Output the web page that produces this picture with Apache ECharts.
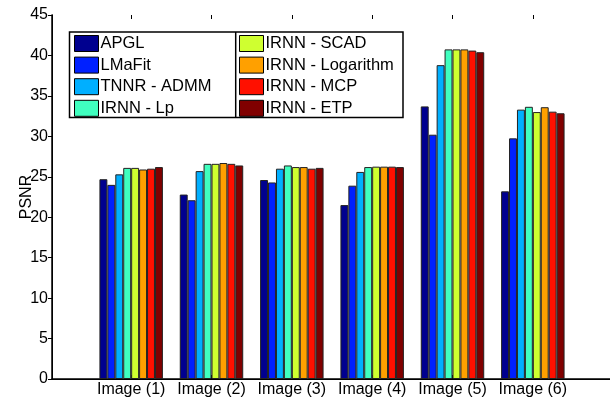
<!DOCTYPE html>
<html><head><meta charset="utf-8">
<script src="https://cdn.jsdelivr.net/npm/echarts@6/dist/echarts.min.js"></script>
<style>html,body{margin:0;padding:0;background:#fff}#c{width:610px;height:398px}</style>
</head><body><div id="c"></div>
<script>
const categories = ['Image (1)','Image (2)','Image (3)','Image (4)','Image (5)','Image (6)'];
const seriesNames = ['APGL','LMaFit','TNNR - ADMM','IRNN - Lp','IRNN - SCAD','IRNN - Logarithm','IRNN - MCP','IRNN - ETP'];
const APGL   = [24.7, 22.8, 24.6, 21.5, 33.7, 23.2];
const LMaFit = [24.0, 22.1, 24.3, 23.9, 30.2, 29.75];
const TNNR   = [25.3, 25.7, 26.0, 25.6, 38.8, 33.3];
const IRNN_Lp   = [26.1, 26.6, 26.4, 26.2, 40.75, 33.65];
const IRNN_SCAD = [26.1, 26.6, 26.2, 26.25, 40.75, 33.0];
const IRNN_Log  = [25.9, 26.7, 26.2, 26.25, 40.75, 33.6];
const IRNN_MCP  = [26.0, 26.6, 26.0, 26.25, 40.6, 33.05];
const IRNN_ETP  = [26.2, 26.4, 26.1, 26.2, 40.4, 32.85];
const yTicks = [0,5,10,15,20,25,30,35,40,45];

const values = [APGL, LMaFit, TNNR, IRNN_Lp, IRNN_SCAD, IRNN_Log, IRNN_MCP, IRNN_ETP];
const colors = ['#00008f','#0020ff','#00afff','#40ffbf','#cfff30','#ffa000','#ff1000','#800000'];
const FONT = "'Liberation Sans', Arial, sans-serif";

const chart = echarts.init(document.getElementById('c'), null, {renderer:'canvas'});
const series = values.map((v,i)=>({
  name: seriesNames[i], type:'bar', xAxisIndex:2, yAxisIndex:2, data:v,
  barGap:'0%', barCategoryGap:'21%',
  itemStyle:{color:colors[i], borderColor:'#222', borderWidth:1},
  emphasis:{disabled:true}, animation:false
}));
const legendCommon = {
  orient:'vertical', itemWidth:24, itemHeight:16, itemGap:4.6, padding:0, z:10,
  icon:'rect', selectedMode:false,
  textStyle:{fontFamily:FONT, fontSize:16.5, color:'#000', padding:[0,0,0,-3]},
  itemStyle:{borderColor:'#000', borderWidth:1}
};
chart.setOption({
  animation:false,
  textStyle:{fontFamily:FONT},
  grid:[
    {left:52, right:0, top:15, bottom:19, containLabel:false},
    {left:52, right:0, top:15, bottom:19, containLabel:false},
    {left:91, right:37, top:15, bottom:19, containLabel:false}
  ],
  xAxis:[
    {gridIndex:0, type:'value', min:0, max:1, position:'bottom', axisLine:{show:true,lineStyle:{color:'#000',width:1.5}}, axisTick:{show:false}, axisLabel:{show:false}, splitLine:{show:false}},
    {gridIndex:1, type:'value', min:0, max:1, position:'top', axisLine:{show:true,lineStyle:{color:'#000',width:1}}, axisTick:{show:false}, axisLabel:{show:false}, splitLine:{show:false}},
    {gridIndex:2, type:'category', data:categories, position:'bottom',
      axisLine:{show:false}, axisTick:{show:true, inside:true, alignWithLabel:true, length:4, lineStyle:{color:'#000'}},
      axisLabel:{color:'#000', fontSize:16, fontFamily:FONT, margin:3, interval:0}},
    {gridIndex:2, type:'category', data:categories, position:'top',
      axisLine:{show:false}, axisTick:{show:true, inside:true, alignWithLabel:true, length:4, lineStyle:{color:'#000'}},
      axisLabel:{show:false}}
  ],
  yAxis:[
    {gridIndex:0, type:'value', min:0, max:45, interval:5, position:'left',
      name:'PSNR', nameLocation:'middle', nameGap:17, nameMoveOverlap:false,
      nameTextStyle:{color:'#000', fontSize:16, fontFamily:FONT},
      axisLine:{show:true,lineStyle:{color:'#000',width:1.5}}, axisTick:{show:true, inside:false, length:4, lineStyle:{color:'#000'}},
      axisLabel:{color:'#000', fontSize:16, fontFamily:FONT, margin:4}, splitLine:{show:false}},
    {gridIndex:1, type:'value', min:0, max:45, interval:5, position:'right',
      axisLine:{show:true,lineStyle:{color:'#000',width:1}}, axisTick:{show:true, inside:true, length:4, lineStyle:{color:'#000'}},
      axisLabel:{show:false}, splitLine:{show:false}},
    {gridIndex:2, type:'value', min:0, max:45, interval:5, show:false}
  ],
  legend:[
    Object.assign({}, legendCommon, {left:74, top:35, data:seriesNames.slice(0,4)}),
    Object.assign({}, legendCommon, {left:239, top:35, data:seriesNames.slice(4)})
  ],
  graphic:[
    {type:'rect', z:5, shape:{x:69.5, y:32, width:333.5, height:85.5}, style:{fill:'#fff', stroke:'#000', lineWidth:1.5}},
    {type:'line', z:5, shape:{x1:235.7, y1:32, x2:235.7, y2:117.5}, style:{stroke:'#000', lineWidth:1.5}}
  ],
  series: series
});
</script></body></html>
